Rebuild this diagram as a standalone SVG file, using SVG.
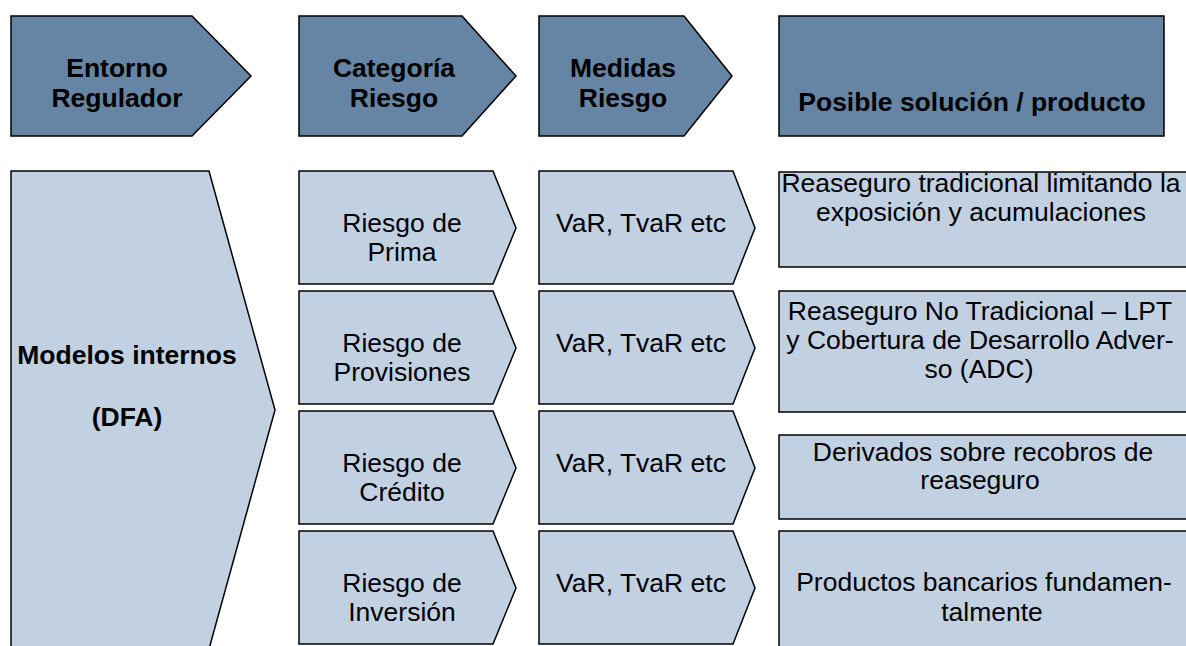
<svg xmlns="http://www.w3.org/2000/svg" width="1186" height="646" viewBox="0 0 1186 646">
<style>
.hdr{fill:#6684A3;stroke:#000;stroke-width:1.5}
.lt{fill:#C1D1E1;stroke:#000;stroke-width:1.5}
text{font-family:"Liberation Sans",Arial,sans-serif;fill:#000;text-anchor:middle}
.b{font-weight:bold;font-size:26.5px}
.r{font-size:26.5px}
</style>
<rect width="1186" height="646" fill="#fff"/>
<g id="h-entorno">
<polygon class="hdr" points="11,16 192,16 251,76 192,136 11,136"/>
<text class="b" x="117" y="77">Entorno</text>
<text class="b" x="117" y="107">Regulador</text>
</g>
<g id="h-categoria">
<polygon class="hdr" points="299,16 462,16 516,76 462,136 299,136"/>
<text class="b" x="394" y="77">Categoría</text>
<text class="b" x="394" y="107">Riesgo</text>
</g>
<g id="h-medidas">
<polygon class="hdr" points="539,16 684,16 732,76 684,136 539,136"/>
<text class="b" x="623" y="77">Medidas</text>
<text class="b" x="623" y="107">Riesgo</text>
</g>
<g id="h-solucion">
<rect class="hdr" x="779" y="16" width="385" height="120"/>
<text class="b" x="972" y="111">Posible solución / producto</text>
</g>
<g id="modelos">
<polygon class="lt" points="11,171 209,171 275,410 209,649 11,649"/>
<text class="b" x="127" y="364">Modelos internos</text>
<text class="b" x="127" y="426">(DFA)</text>
</g>
<g id="cat-prima">
<polygon class="lt" points="299,171 493,171 516,228 493,284 299,284"/>
<text class="r" x="402" y="232">Riesgo de</text>
<text class="r" x="402" y="261">Prima</text>
</g>
<g id="cat-provisiones">
<polygon class="lt" points="299,291 493,291 516,348 493,404 299,404"/>
<text class="r" x="402" y="352">Riesgo de</text>
<text class="r" x="402" y="381">Provisiones</text>
</g>
<g id="cat-credito">
<polygon class="lt" points="299,411 493,411 516,468 493,524 299,524"/>
<text class="r" x="402" y="472">Riesgo de</text>
<text class="r" x="402" y="501">Crédito</text>
</g>
<g id="cat-inversion">
<polygon class="lt" points="299,531 493,531 516,588 493,644 299,644"/>
<text class="r" x="402" y="592">Riesgo de</text>
<text class="r" x="402" y="621">Inversión</text>
</g>
<g id="med-1">
<polygon class="lt" points="539,171 733,171 755,228 733,284 539,284"/>
<text class="r" x="641" y="232">VaR, TvaR etc</text>
</g>
<g id="med-2">
<polygon class="lt" points="539,291 733,291 755,348 733,404 539,404"/>
<text class="r" x="641" y="352">VaR, TvaR etc</text>
</g>
<g id="med-3">
<polygon class="lt" points="539,411 733,411 755,468 733,524 539,524"/>
<text class="r" x="641" y="472">VaR, TvaR etc</text>
</g>
<g id="med-4">
<polygon class="lt" points="539,531 733,531 755,588 733,644 539,644"/>
<text class="r" x="641" y="592">VaR, TvaR etc</text>
</g>
<g id="sol-1">
<rect class="lt" x="779" y="172" width="420" height="95"/>
<text class="r" x="981" y="192">Reaseguro tradicional limitando la</text>
<text class="r" x="981" y="221">exposición y acumulaciones</text>
</g>
<g id="sol-2">
<rect class="lt" x="779" y="291" width="420" height="121"/>
<text class="r" x="980" y="320">Reaseguro No Tradicional – LPT</text>
<text class="r" x="980" y="349">y Cobertura de Desarrollo Adver-</text>
<text class="r" x="979" y="378">so (ADC)</text>
</g>
<g id="sol-3">
<rect class="lt" x="779" y="435" width="420" height="84"/>
<text class="r" x="983" y="461">Derivados sobre recobros de</text>
<text class="r" x="980" y="489">reaseguro</text>
</g>
<g id="sol-4">
<rect class="lt" x="779" y="531" width="420" height="130"/>
<text class="r" x="984" y="591">Productos bancarios fundamen-</text>
<text class="r" x="992" y="621">talmente</text>
</g>
<g id="connectors"></g>
</svg>
